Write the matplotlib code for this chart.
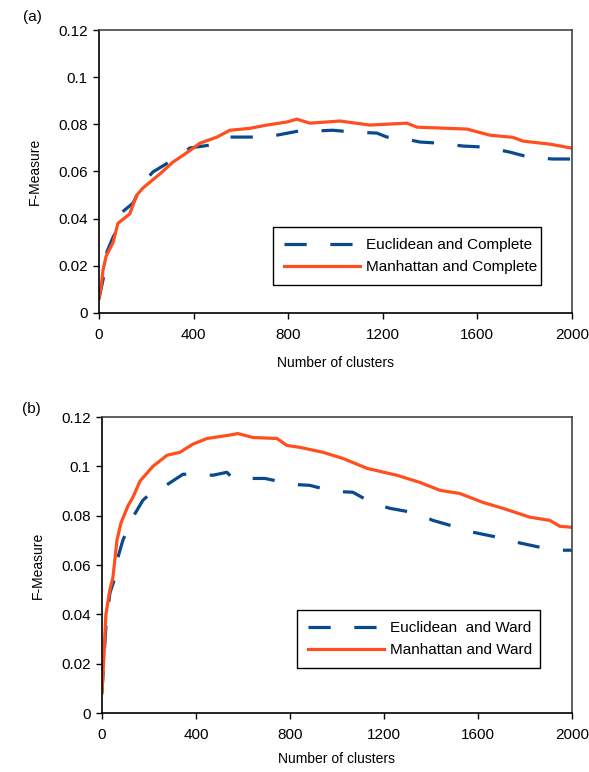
import matplotlib
matplotlib.use("Agg")
import matplotlib.pyplot as plt

plt.rcParams['font.family'] = ['Liberation Sans', 'DejaVu Sans']
plt.rcParams['lines.scale_dashes'] = False

BLUE = "#0A4A8C"
ORANGE = "#FF4F1F"

# (a) complete linkage
a_euc_x = [0, 17, 34, 59, 80, 89, 144, 186, 228, 330, 385, 469, 541, 638, 710, 820,
           862, 892, 989, 1074, 1175, 1218, 1260, 1357, 1442, 1539, 1641, 1738,
           1822, 1920, 2000]
a_euc_y = [0.006, 0.014, 0.026, 0.032, 0.036, 0.042, 0.0466, 0.055, 0.0598, 0.066,
           0.070, 0.0712, 0.0746, 0.0746, 0.0746, 0.0767, 0.0775, 0.0771, 0.0775,
           0.0767, 0.0763, 0.0746, 0.0746, 0.0725, 0.072, 0.0708, 0.0703, 0.0682,
           0.066, 0.0653, 0.0653]
a_man_x = [0, 10, 17, 30, 60, 80, 130, 160, 186, 258, 313, 372, 427, 499, 554, 638,
           710, 795, 837, 892, 1019, 1146, 1302, 1345, 1556, 1653, 1750, 1793,
           1907, 2000]
a_man_y = [0.006, 0.012, 0.018, 0.024, 0.030, 0.038, 0.042, 0.050, 0.053, 0.059,
           0.064, 0.068, 0.072, 0.0746, 0.0775, 0.0783, 0.0797, 0.081, 0.0822,
           0.0805, 0.0814, 0.0797, 0.0805, 0.0788, 0.078, 0.0754, 0.0745, 0.0729,
           0.0716, 0.0699]

# (b) ward linkage
b_euc_x = [0, 17, 34, 55, 68, 89, 132, 174, 217, 260, 345, 404, 472, 532, 557, 643,
           694, 813, 885, 983, 1068, 1153, 1225, 1340, 1408, 1511, 1579, 1681,
           1766, 1864, 1957, 2000]
b_euc_y = [0.008, 0.035, 0.0486, 0.0547, 0.063, 0.070, 0.0794, 0.0862, 0.090,
           0.0915, 0.0968, 0.0968, 0.0964, 0.0976, 0.0951, 0.0951, 0.0951, 0.0927,
           0.0923, 0.0899, 0.0895, 0.085, 0.083, 0.081, 0.0781, 0.0753, 0.0733,
           0.0713, 0.0692, 0.0672, 0.066, 0.066]
b_man_x = [0, 8, 17, 34, 47, 64, 81, 111, 132, 162, 217, 277, 332, 387, 447, 532,
           579, 643, 745, 787, 843, 941, 1026, 1128, 1255, 1353, 1438, 1523, 1621,
           1706, 1821, 1906, 1949, 2000]
b_man_y = [0.008, 0.022, 0.040, 0.050, 0.055, 0.070, 0.077, 0.084, 0.0875, 0.094,
           0.100, 0.1045, 0.1057, 0.109, 0.1113, 0.1125, 0.1133, 0.1117, 0.1113,
           0.1085, 0.1077, 0.1057, 0.1032, 0.0992, 0.0964, 0.0935, 0.0903, 0.089,
           0.0854, 0.083, 0.0794, 0.0781, 0.0757, 0.0753]

xticks = [0, 400, 800, 1200, 1600, 2000]
yticks = [0, 0.02, 0.04, 0.06, 0.08, 0.1, 0.12]
yticklabels = ["0", "0.02", "0.04", "0.06", "0.08", "0.1", "0.12"]

fig = plt.figure(figsize=(5.89, 7.72), dpi=100)
ax1 = fig.add_axes([0.168, 0.5946, 0.803, 0.3665])
ax2 = fig.add_axes([0.173, 0.0764, 0.798, 0.3834])


def style_axes(ax, labels, euc, man, leg_box, xpad):
    ax.plot(euc[0], euc[1], color=BLUE, lw=2.3, dashes=(16, 17), label=labels[0])
    ax.plot(man[0], man[1], color=ORANGE, lw=2.3, label=labels[1])
    ax.set_xlim(0, 2000)
    ax.set_ylim(0, 0.12)
    ax.set_xticks(xticks)
    ax.set_yticks(yticks)
    ax.set_yticklabels(yticklabels)
    ax.tick_params(direction='out', length=4, width=1, labelsize=11, pad=4)
    ax.tick_params(axis='x', pad=7)
    for s in ['left', 'bottom']:
        ax.spines[s].set_linewidth(1.2)
        ax.spines[s].set_color('black')
    for s in ['top', 'right']:
        ax.spines[s].set_linewidth(1.2)
        ax.spines[s].set_color('#444444')
    ax.set_xlabel("Number of clusters", fontsize=10, labelpad=xpad)
    ax.set_ylabel("F-Measure", fontsize=10, labelpad=12)
    leg = ax.legend(loc='lower left', bbox_to_anchor=leg_box, mode='expand',
                    borderaxespad=0, fancybox=False, edgecolor='black',
                    framealpha=1, fontsize=11, handlelength=5, handletextpad=0.4,
                    labelspacing=0.55, borderpad=0.7)
    leg.get_frame().set_linewidth(1.0)


style_axes(ax1, ["Euclidean and Complete", "Manhattan and Complete"],
           (a_euc_x, a_euc_y), (a_man_x, a_man_y), (0.368, 0.099, 0.566, 0.215), 10)
style_axes(ax2, ["Euclidean  and Ward", "Manhattan and Ward"],
           (b_euc_x, b_euc_y), (b_man_x, b_man_y), (0.415, 0.152, 0.517, 0.206), 7)

fig.text(23 / 589, 1 - 17 / 772, "(a)", fontsize=11, va='center', ha='left')
fig.text(22 / 589, 1 - 409 / 772, "(b)", fontsize=11, va='center', ha='left')

fig.savefig("out.png", dpi=100)
